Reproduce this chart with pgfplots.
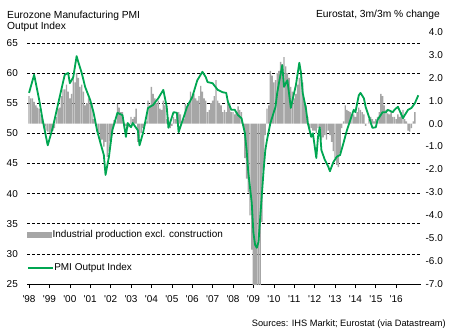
\documentclass[border=0pt]{standalone}
\usepackage{fontspec}
\setmainfont{Liberation Sans}
\usepackage{pgfplots}
\pgfplotsset{compat=1.18}
\definecolor{pmigreen}{RGB}{0,166,81}
\definecolor{ipgray}{RGB}{166,166,166}

\pgfplotstableread{
n ip
0 1.2
1 1.1
2 1.1
3 0.95
4 0.8
5 0.7
6 0.65
7 0.4
8 0.2
9 -0.1
10 -0.3
11 -0.35
12 -0.4
13 -0.35
14 -0.3
15 -0.2
16 0.3
17 0.65
18 0.7
19 1.2
20 1.5
21 1.5
22 1.7
23 1.4
24 1.1
25 1.3
26 2.0
27 1.8
28 2.2
29 2.0
30 1.6
31 1.7
32 1.4
33 0.8
34 0.9
35 1.1
36 1.0
37 0.9
38 0.2
39 0.1
40 -0.35
41 -0.4
42 -0.9
43 -0.7
44 -1.0
45 -0.8
46 -1.45
47 -1.2
48 -0.75
49 -0.5
50 0.15
51 0.1
52 0.85
53 0.7
54 0.5
55 0.5
56 -0.2
57 -0.1
58 -0.2
59 -0.15
60 0.3
61 0.2
62 0.3
63 0.65
64 -0.8
65 -0.6
66 -0.4
67 -0.2
68 -0.1
69 0.1
70 1.0
71 0.8
72 1.6
73 1.3
74 1.1
75 0.9
76 1.0
77 0.65
78 0.6
79 1.0
80 0.8
81 0.2
82 0.3
83 -0.2
84 -0.1
85 0.3
86 0.2
87 0.4
88 0.5
89 0.4
90 0.1
91 0.2
92 0.85
93 0.7
94 0.9
95 1.4
96 1.2
97 1.3
98 1.1
99 1.0
100 1.2
101 1.65
102 1.4
103 1.1
104 1.0
105 0.5
106 0.6
107 0.9
108 1.0
109 1.2
110 1.9
111 1.0
112 0.9
113 0.8
114 0.5
115 0.6
116 0.5
117 1.0
118 0.9
119 0.5
120 0.5
121 0.4
122 0.5
123 0.75
124 0.6
125 0.5
126 -0.1
127 -1.5
128 -2.4
129 -3.0
130 -4.0
131 -5.5
132 -7.5
133 -7.5
134 -7.5
135 -7.5
136 -7.5
137 -4.3
138 -2.0
139 -0.5
140 0.65
141 0.8
142 2.3
143 2.1
144 1.8
145 1.9
146 2.2
147 2.3
148 2.7
149 2.6
150 2.9
151 2.5
152 2.2
153 2.0
154 1.6
155 1.4
156 1.1
157 1.3
158 1.7
159 2.0
160 2.3
161 1.8
162 1.0
163 0.8
164 0.3
165 -0.3
166 -0.2
167 -0.3
168 -0.3
169 -0.4
170 -0.2
171 -0.3
172 -0.7
173 -0.6
174 -0.5
175 -0.7
176 -0.3
177 -0.5
178 -0.8
179 -1.2
180 -1.5
181 -1.8
182 -1.9
183 -1.3
184 -0.2
185 0.1
186 0.8
187 0.6
188 0.55
189 0.5
190 0.4
191 0.4
192 0.3
193 0.5
194 0.7
195 0.6
196 0.5
197 0.4
198 -0.1
199 0.0
200 0.2
201 0.3
202 0.2
203 0.1
204 0.2
205 0.3
206 0.5
207 1.3
208 1.2
209 0.8
210 0.6
211 0.45
212 0.4
213 0.5
214 0.3
215 0.3
216 0.2
217 0.4
218 0.3
219 0.5
220 0.6
221 0.2
222 0.1
223 -0.3
224 -0.35
225 -0.2
226 0.1
227 0.5
}\iptable

\pgfplotstableread{
n pmi
0 56.7
3 59.7
6 55.5
8 52.2
11 48.0
14 51.0
18 56.0
21 59.7
23 60.0
24 58.3
26 59.3
28 62.8
29 61.8
31 60.0
33 57.7
36 55.5
38 53.4
40 50.5
42 48.4
44 46.4
45 43.1
47 46.1
49 50.5
52 53.4
55 53.0
57 49.4
58 51.7
60 51.0
61 51.7
64 50.5
65 48.0
67 50.0
70 54.2
73 54.7
76 55.8
79 57.2
81 54.4
82 50.9
85 53.5
87 53.4
88 50.2
91 52.7
93 54.4
96 56.0
99 58.8
102 60.2
104 59.3
105 58.5
108 58.3
111 57.2
114 56.8
116 56.7
117 55.2
119 53.9
121 53.9
123 53.0
125 52.5
127 50.0
128 47.2
129 43.5
131 38.5
132 33.5
133 31.5
134 31.0
135 32.0
136 36.0
138 43.9
139 47.2
140 48.9
142 51.7
145 54.4
146 56.7
147 58.3
149 61.3
150 57.7
152 58.8
154 54.2
155 55.5
157 58.0
159 61.7
160 60.0
161 56.7
163 53.9
164 51.7
166 49.4
167 50.0
169 45.9
170 49.4
171 51.0
172 47.2
174 45.6
176 44.5
177 43.7
179 45.2
181 46.1
183 46.4
185 48.4
187 50.5
189 52.2
191 53.9
192 53.5
194 56.3
195 56.7
197 55.8
198 54.4
200 52.7
202 50.9
204 51.0
205 52.2
208 53.5
210 53.5
211 53.9
214 53.5
215 53.9
217 54.4
220 52.5
221 53.0
223 53.9
225 54.2
227 55.0
229 56.3
}\pmitable

\pgfplotsset{
  base/.style={
    at={(27bp,51bp)}, anchor=south west,
    width=394bp, height=252bp, scale only axis,
    xmin=-1.2, xmax=230.6,
    font=\fontsize{10}{12}\selectfont,
    /pgf/number format/assume math mode=true,
  },
}

\begin{document}
\begin{tikzpicture}[x=1bp,y=1bp]
\path[use as bounding box] (0,0) rectangle (454,335);

% left axis: grid, labels, x axis
\begin{axis}[base,
  ymin=25, ymax=66.8, ytick={25,30,...,65},
  axis x line*=bottom, axis y line*=left,
  y axis line style={draw=none},
  ytick style={draw=none},
  ymajorgrids,
  grid style={black, dash pattern=on 3bp off 2bp, line width=0.6bp},
  x axis line style={black, line width=0.8bp},
  xtick={0,12,...,216},
  xticklabels={\textquotesingle98,\textquotesingle99,\textquotesingle00,\textquotesingle01,\textquotesingle02,\textquotesingle03,\textquotesingle04,\textquotesingle05,\textquotesingle06,\textquotesingle07,\textquotesingle08,\textquotesingle09,\textquotesingle10,\textquotesingle11,\textquotesingle12,\textquotesingle13,\textquotesingle14,\textquotesingle15,\textquotesingle16},
  xtick align=outside, major tick length=4bp,
  xtick style={black, line width=0.6bp},
  xticklabel style={inner sep=0pt, anchor=north, yshift=-7bp},
  yticklabel style={inner sep=0pt, anchor=east, xshift=-9bp},
]
\end{axis}

% right axis: industrial production bars
\begin{axis}[base,
  ymin=-7, ymax=4, ytick={-7,-6,...,4},
  axis x line=none, axis y line*=right,
  y axis line style={draw=none},
  ytick style={draw=none},
  yticklabel style={inner sep=0pt, anchor=east, xshift=22bp,
    /pgf/number format/.cd, fixed, fixed zerofill, precision=1},
  legend style={at={(0,0.194)}, anchor=west, draw=none, fill=none,
    inner sep=0pt, outer sep=0pt, font=\fontsize{10}{12}\selectfont,
    nodes={inner sep=0.5bp}},
  legend image code/.code={\fill[ipgray] (0bp,-2.7bp) rectangle (25bp,2.7bp);},
]
\addplot[ybar, bar width=0.8, fill=ipgray, draw=none] table[x=n, y=ip] {\iptable};
\addlegendentry{Industrial production excl. construction}
\end{axis}

% PMI line
\begin{axis}[base,
  ymin=25, ymax=66.8,
  axis lines=none,
  legend style={at={(0,0.0635)}, anchor=west, draw=none, fill=none,
    inner sep=0pt, outer sep=0pt, font=\fontsize{10}{12}\selectfont,
    nodes={inner sep=0.5bp}},
  legend image code/.code={\draw[pmigreen, line width=1.8bp] (0bp,0bp) -- (25bp,0bp);},
]
\addplot[pmigreen, line width=1.8bp, line join=round] table[x=n, y=pmi] {\pmitable};
\addlegendentry{PMI Output Index}
\end{axis}

\node[anchor=base west, inner sep=0pt, font=\fontsize{10.3}{12}\selectfont] at (7,316.7) {Eurozone Manufacturing PMI};
\node[anchor=base west, inner sep=0pt, font=\fontsize{10.3}{12}\selectfont] at (7,305.7) {Output Index};
\node[anchor=base east, inner sep=0pt, font=\fontsize{10.3}{12}\selectfont] at (440,317.3) {Eurostat, 3m/3m \% change};
\node[anchor=base east, inner sep=0pt, font=\fontsize{9.3}{11}\selectfont] at (446,9) {Sources: IHS Markit; Eurostat (via Datastream)};
\end{tikzpicture}
\end{document}
